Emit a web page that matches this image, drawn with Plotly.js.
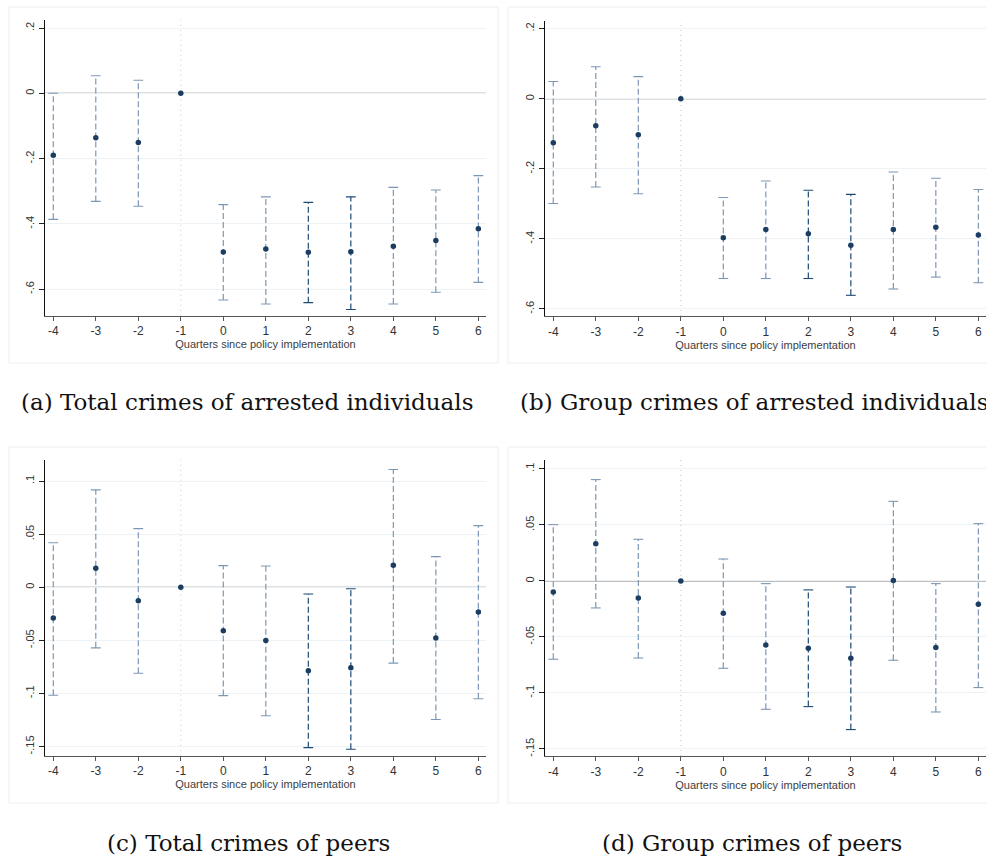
<!DOCTYPE html>
<html>
<head>
<meta charset="utf-8">
<script src="https://cdn.plot.ly/plotly-3.0.1.min.js"></script>
<style>
  html, body { margin: 0; padding: 0; background: #ffffff; }
  #chart { width: 986px; height: 859px; }
</style>
</head>
<body>
<div id="chart"></div>
<script>
// Event-study estimates by quarter relative to the policy start (quarter -1 is the omitted baseline)
const quarters = [-4, -3, -2, -1, 0, 1, 2, 3, 4, 5, 6];
const emphasisQuarters = [2, 3];
const baselineQuarter = -1;

// (a) Total crimes of arrested individuals
const coefA  = [-0.190, -0.136, -0.151, 0, -0.486, -0.477, -0.487, -0.485, -0.468, -0.451, -0.415];
const upperA = [0.000, 0.054, 0.040, null, -0.341, -0.317, -0.334, -0.317, -0.288, -0.296, -0.252];
const lowerA = [-0.386, -0.331, -0.346, null, -0.633, -0.645, -0.641, -0.662, -0.645, -0.609, -0.579];

// (b) Group crimes of arrested individuals
const coefB  = [-0.126, -0.077, -0.103, 0, -0.397, -0.373, -0.385, -0.418, -0.373, -0.367, -0.389];
const upperB = [0.049, 0.091, 0.063, null, -0.282, -0.235, -0.261, -0.273, -0.209, -0.227, -0.259];
const lowerB = [-0.299, -0.252, -0.271, null, -0.513, -0.513, -0.513, -0.561, -0.543, -0.509, -0.525];

// (c) Total crimes of peers
const coefC  = [-0.029, 0.018, -0.0126, 0, -0.041, -0.050, -0.0787, -0.0758, 0.0208, -0.0478, -0.0233];
const upperC = [0.042, 0.0918, 0.0553, null, 0.0204, 0.0201, -0.0063, -0.0013, 0.111, 0.0289, 0.0581];
const lowerC = [-0.1016, -0.057, -0.081, null, -0.102, -0.121, -0.151, -0.1525, -0.0714, -0.1245, -0.105];

// (d) Group crimes of peers
const coefD  = [-0.0098, 0.0333, -0.0152, 0, -0.0289, -0.0571, -0.0601, -0.069, 0.0003, -0.0595, -0.0208];
const upperD = [0.0503, 0.0905, 0.0372, null, 0.0196, -0.0024, -0.008, -0.0054, 0.0711, -0.0024, 0.0512];
const lowerD = [-0.0699, -0.0241, -0.0688, null, -0.078, -0.1146, -0.1122, -0.1327, -0.0708, -0.117, -0.0952];

// Tick labels
const xTickVals = quarters;
const xTickText = ["-4", "-3", "-2", "-1", "0", "1", "2", "3", "4", "5", "6"];
const yTickValsTop = [0.2, 0, -0.2, -0.4, -0.6];
const yTickTextTop = [".2", "0", "-.2", "-.4", "-.6"];
const yTickValsBottom = [0.1, 0.05, 0, -0.05, -0.1, -0.15];
const yTickTextBottom = [".1", ".05", "0", "-.05", "-.1", "-.15"];

const xTitle = "Quarters since policy implementation";
const captions = [
  "(a) Total crimes of arrested individuals",
  "(b) Group crimes of arrested individuals",
  "(c) Total crimes of peers",
  "(d) Group crimes of peers"
];

// Styling
const pointColor = "#1b3d62";
const ciLight = "#7c97b4";
const ciDark = "#1e4a76";
const W = 986, H = 859;

function ciTraces(coef, lower, upper, xa, ya) {
  const groups = [
    { dark: false, color: ciLight },
    { dark: true, color: ciDark }
  ];
  const out = [];
  groups.forEach(g => {
    const lx = [], ly = [], cx = [], cy = [];
    quarters.forEach((q, i) => {
      if (lower[i] === null || upper[i] === null) return;
      const isDark = emphasisQuarters.includes(q);
      if (isDark !== g.dark) return;
      lx.push(q, q, null);
      ly.push(lower[i], upper[i], null);
      cx.push(q, q);
      cy.push(lower[i], upper[i]);
    });
    out.push({
      type: "scatter", mode: "lines", x: lx, y: ly, xaxis: xa, yaxis: ya,
      line: { color: g.color, width: 1.2, dash: "6px,3px" },
      hoverinfo: "skip", connectgaps: false
    });
    out.push({
      type: "scatter", mode: "markers", x: cx, y: cy, xaxis: xa, yaxis: ya,
      marker: { symbol: "line-ew", size: 7, line: { color: g.color, width: 1.1 } },
      hoverinfo: "skip"
    });
  });
  out.push({
    type: "scatter", mode: "markers", x: quarters, y: coef, xaxis: xa, yaxis: ya,
    marker: { symbol: "circle", size: 5.5, color: pointColor }
  });
  return out;
}

const data = [].concat(
  ciTraces(coefA, lowerA, upperA, "x", "y"),
  ciTraces(coefB, lowerB, upperB, "x2", "y2"),
  ciTraces(coefC, lowerC, upperC, "x3", "y3"),
  ciTraces(coefD, lowerD, upperD, "x4", "y4")
);

// Pixel boxes of each plot region -> paper domains
function dom(x0, x1, y0, y1) {
  return { x: [x0 / W, x1 / W], y: [1 - y1 / H, 1 - y0 / H] };
}
const panels = [
  { d: dom(45, 486, 20, 315.7),  yr: [-0.681, 0.2245], tv: yTickValsTop, tt: yTickTextTop },
  { d: dom(545, 986, 20.7, 316), yr: [-0.620, 0.2226], tv: yTickValsTop, tt: yTickTextTop },
  { d: dom(45, 486, 460, 755.7), yr: [-0.1586, 0.1199], tv: yTickValsBottom, tt: yTickTextBottom },
  { d: dom(545, 986, 460, 756),  yr: [-0.1563, 0.108], tv: yTickValsBottom, tt: yTickTextBottom }
];

const layout = {
  width: W, height: H,
  margin: { l: 0, r: 0, t: 0, b: 0 },
  paper_bgcolor: "#ffffff",
  plot_bgcolor: "#ffffff",
  showlegend: false,
  font: { family: "Liberation Sans, Arial, sans-serif", color: "#333333" },
  shapes: [],
  annotations: []
};

panels.forEach((p, k) => {
  const n = k === 0 ? "" : String(k + 1);
  layout["xaxis" + n] = {
    domain: p.d.x, range: [-4.195, 6.18], anchor: "y" + n,
    tickmode: "array", tickvals: xTickVals, ticktext: xTickText,
    ticks: "outside", ticklen: 4, tickwidth: 1, tickcolor: "#555555",
    showline: true, linecolor: "#555555", linewidth: 1.3,
    showgrid: false, zeroline: false, automargin: false,
    tickfont: { size: 12, color: "#333333" },
    title: { text: xTitle, font: { size: 11, color: "#404040" }, standoff: 1 }
  };
  layout["yaxis" + n] = {
    domain: p.d.y, range: p.yr, anchor: "x" + n,
    tickmode: "array", tickvals: p.tv, ticktext: p.tt,
    ticks: "outside", ticklen: 5, tickwidth: 1, tickcolor: "#222222",
    showline: true, linecolor: "#111111", linewidth: 1.4,
    showgrid: true, gridcolor: "#edf2f5", gridwidth: 1,
    zeroline: false, automargin: false, tickangle: -90,
    tickfont: { size: 11, color: "#333333" }
  };
  const xr = "x" + n, yr = "y" + n;
  // zero reference line
  layout.shapes.push({
    type: "line", xref: xr + " domain", yref: yr, x0: 0, x1: 1, y0: 0, y1: 0,
    line: { color: "#7f7f7f", width: 1.3 }, layer: "below"
  });
  // baseline quarter marker
  layout.shapes.push({
    type: "line", xref: xr, yref: yr + " domain", x0: baselineQuarter, x1: baselineQuarter, y0: 0, y1: 1,
    line: { color: "#c4c8cc", width: 1, dash: "1px,4px" }, layer: "below"
  });
});

// light outer frames of each subfigure
const frames = [
  [9, 498, 7, 363], [508, 1000, 7, 363], [9, 498, 447, 803], [508, 1000, 447, 803]
];
frames.forEach(f => {
  layout.shapes.push({
    type: "rect", xref: "paper", yref: "paper",
    x0: f[0] / W, x1: f[1] / W, y0: 1 - f[3] / H, y1: 1 - f[2] / H,
    line: { color: "#eaeff2", width: 1 }, fillcolor: "rgba(0,0,0,0)", layer: "below"
  });
});

// subfigure captions
const capPos = [[246.5, 402], [754.5, 402], [248, 843], [752, 843]];
captions.forEach((c, i) => {
  layout.annotations.push({
    text: c, xref: "paper", yref: "paper",
    x: capPos[i][0] / W, y: 1 - capPos[i][1] / H,
    xanchor: "center", yanchor: "middle", showarrow: false,
    font: { family: "DejaVu Serif, serif", size: 23, color: "#111111" }
  });
});

Plotly.newPlot("chart", data, layout, { displayModeBar: false, staticPlot: true });
</script>
</body>
</html>
